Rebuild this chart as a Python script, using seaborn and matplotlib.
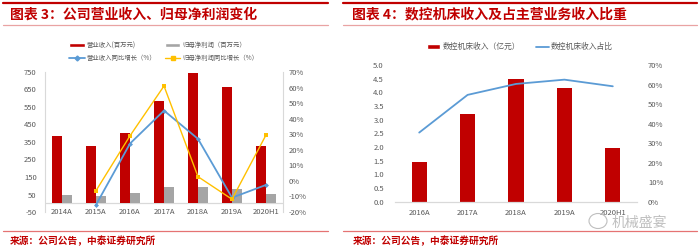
import numpy as np
import pandas as pd
import matplotlib
matplotlib.use("Agg")
import matplotlib.pyplot as plt
from matplotlib.lines import Line2D
from matplotlib.patches import Patch, Ellipse
import seaborn as sns

# ---- data: company revenue / net profit ----
years_l = ["2014A", "2015A", "2016A", "2017A", "2018A", "2019A", "2020H1"]
revenue = [384, 325, 403, 585, 743, 663, 327]          # 百万元
net_profit = [45, 41, 57, 91, 95, 82, 51]              # 百万元
revenue_yoy = [np.nan, -15.4, 24.0, 45.2, 27.0, -10.8, -2.6]    # %
profit_yoy = [np.nan, -6.3, 29.0, 61.0, 2.7, -11.8, 29.5]       # %

# ---- data: CNC machine tool revenue and share ----
years_r = ["2016A", "2017A", "2018A", "2019A", "2020H1"]
cnc_revenue = [1.46, 3.21, 4.48, 4.15, 1.95]           # 亿元
cnc_share = [35.4, 54.7, 60.3, 62.5, 59.1]             # %

RED = "#C00000"
GRAY = "#A5A5A5"
BLUE = "#5B9BD5"
YELLOW = "#FFC000"
TICK = "#595959"
SPINE = "#D9D9D9"

sns.set_theme(style="white")
plt.rcParams["font.family"] = ["Noto Sans CJK SC", "DejaVu Sans"]
plt.rcParams["axes.unicode_minus"] = False

W, H = 700, 250
fig = plt.figure(figsize=(7, 2.5), dpi=100)

def fx(px):
    return px / W

def fy(py):
    return 1 - py / H

# ---- frame lines, titles and source notes ----
for x0, x1 in [(3, 328), (343, 697)]:
    fig.add_artist(Line2D([fx(x0), fx(x1)], [fy(3), fy(3)], color=RED, lw=1.6))
    fig.add_artist(Line2D([fx(x0), fx(x1)], [fy(24.5), fy(24.5)], color="#E9A3A3", lw=0.9))
    fig.add_artist(Line2D([fx(x0), fx(x1)], [fy(231), fy(231)], color="#E57373", lw=0.9))

fig.text(fx(10), fy(14.5), "图表 3：公司营业收入、归母净利润变化", color=RED,
         fontsize=10, fontweight="bold", style="italic", va="center", ha="left")
fig.text(fx(352), fy(14.5), "图表 4：数控机床收入及占主营业务收入比重", color=RED,
         fontsize=10, fontweight="bold", style="italic", va="center", ha="left")
fig.text(fx(10), fy(241), "来源：公司公告，中泰证券研究所", color=RED,
         fontsize=7, fontweight="bold", va="center", ha="left")
fig.text(fx(353), fy(241), "来源：公司公告，中泰证券研究所", color=RED,
         fontsize=7, fontweight="bold", va="center", ha="left")

# ---- left chart ----
axL = fig.add_axes([fx(45), fy(212), fx(283) - fx(45), (212 - 72) / H])
df_l = pd.DataFrame({
    "year": years_l * 2,
    "value": revenue + net_profit,
    "series": ["营业收入(百万元)"] * len(years_l) + ["归母净利润（百万元）"] * len(years_l),
})
sns.barplot(data=df_l, x="year", y="value", hue="series", order=years_l,
            palette=[RED, GRAY], width=0.6, gap=0, ax=axL, legend=False,
            saturation=1, edgecolor="none")
axL.set_ylim(-50, 750)
axL.set_yticks(np.arange(-50, 751, 100))
axL.set_xlim(-0.5, len(years_l) - 0.5)
axL.axhline(0, color=SPINE, lw=0.9, zorder=0.5)
axL.set_xlabel("")
axL.set_ylabel("")
for s in ["top", "bottom"]:
    axL.spines[s].set_visible(False)
for s in ["left", "right"]:
    axL.spines[s].set_color(SPINE)
    axL.spines[s].set_linewidth(0.8)
axL.tick_params(axis="y", labelsize=5.5, labelcolor=TICK, length=0, pad=6)
axL.tick_params(axis="x", labelsize=5.5, labelcolor=TICK, length=0, pad=-3)

axL2 = axL.twinx()
x_l = np.arange(len(years_l))
sns.lineplot(x=x_l, y=revenue_yoy, ax=axL2, color=BLUE, lw=1.3,
             marker="D", markersize=2.5, markeredgewidth=0)
sns.lineplot(x=x_l, y=profit_yoy, ax=axL2, color=YELLOW, lw=1.0,
             marker="s", markersize=3, markeredgewidth=0)
axL2.set_ylim(-20, 70)
axL2.set_yticks(np.arange(-20, 71, 10))
axL2.set_yticklabels([f"{v}%" for v in range(-20, 71, 10)])
axL2.set_xlim(-0.5, len(years_l) - 0.5)
for s in ["top", "bottom", "left", "right"]:
    axL2.spines[s].set_visible(False)
axL2.tick_params(axis="y", labelsize=5.5, labelcolor=TICK, length=0, pad=4)
axL2.grid(False)
axL.grid(False)

handles_l = [
    Patch(facecolor=RED, label="营业收入(百万元)"),
    Patch(facecolor=GRAY, label="归母净利润（百万元）"),
    Line2D([], [], color=BLUE, lw=1.3, marker="D", markersize=2.5, label="营业收入同比增长（%）"),
    Line2D([], [], color=YELLOW, lw=1.0, marker="s", markersize=3, label="归母净利润同比增长（%）"),
]
fig.legend(handles=[handles_l[0], handles_l[2], handles_l[1], handles_l[3]], ncol=2,
           loc="center left", bbox_to_anchor=(fx(66), fy(51.5)), frameon=False,
           fontsize=4.6, labelcolor=TICK, handlelength=2.4, handleheight=0.7,
           handletextpad=0.3, columnspacing=1.4, labelspacing=0.75, borderpad=0)

# ---- right chart ----
axR = fig.add_axes([fx(395), fy(201.7), fx(637) - fx(395), (201.7 - 65) / H])
df_r = pd.DataFrame({"year": years_r, "value": cnc_revenue})
sns.barplot(data=df_r, x="year", y="value", order=years_r, color=RED,
            width=0.31, ax=axR, saturation=1, edgecolor="none")
axR.set_ylim(0, 5)
axR.set_yticks(np.arange(0, 5.01, 0.5))
axR.set_yticklabels([f"{v:.1f}" for v in np.arange(0, 5.01, 0.5)])
axR.set_xlim(-0.5, len(years_r) - 0.5)
axR.set_xlabel("")
axR.set_ylabel("")
for s in ["top", "left", "right"]:
    axR.spines[s].set_visible(False)
axR.spines["bottom"].set_color(SPINE)
axR.spines["bottom"].set_linewidth(0.9)
axR.tick_params(axis="y", labelsize=5.5, labelcolor=TICK, length=0, pad=8)
axR.tick_params(axis="x", labelsize=5.5, labelcolor=TICK, length=0, pad=5)
axR.grid(False)

axR2 = axR.twinx()
sns.lineplot(x=np.arange(len(years_r)), y=cnc_share, ax=axR2, color=BLUE, lw=1.3)
axR2.set_ylim(0, 70)
axR2.set_yticks(np.arange(0, 71, 10))
axR2.set_yticklabels([f"{v}%" for v in range(0, 71, 10)])
axR2.set_xlim(-0.5, len(years_r) - 0.5)
for s in ["top", "bottom", "left", "right"]:
    axR2.spines[s].set_visible(False)
axR2.tick_params(axis="y", labelsize=5.5, labelcolor=TICK, length=0, pad=8)
axR2.grid(False)

handles_r = [
    Patch(facecolor=RED, label="数控机床收入（亿元）"),
    Line2D([], [], color=BLUE, lw=1.3, label="数控机床收入占比"),
]
fig.legend(handles=handles_r, ncol=2, loc="center left",
           bbox_to_anchor=(fx(423), fy(47)), frameon=False,
           fontsize=5.6, labelcolor=TICK, handlelength=1.7, handleheight=0.6,
           handletextpad=0.3, columnspacing=2.0, borderpad=0)

# ---- account mark ----
fig.add_artist(Ellipse((fx(598), fy(221)), fx(18), 15 / H, fill=False,
                       edgecolor="#BFBFBF", lw=0.8))
fig.text(fx(612), fy(222.5), "机械盛宴", color="#BFBFBF", fontsize=10,
         va="center", ha="left")

fig.savefig("out.png", dpi=100)
